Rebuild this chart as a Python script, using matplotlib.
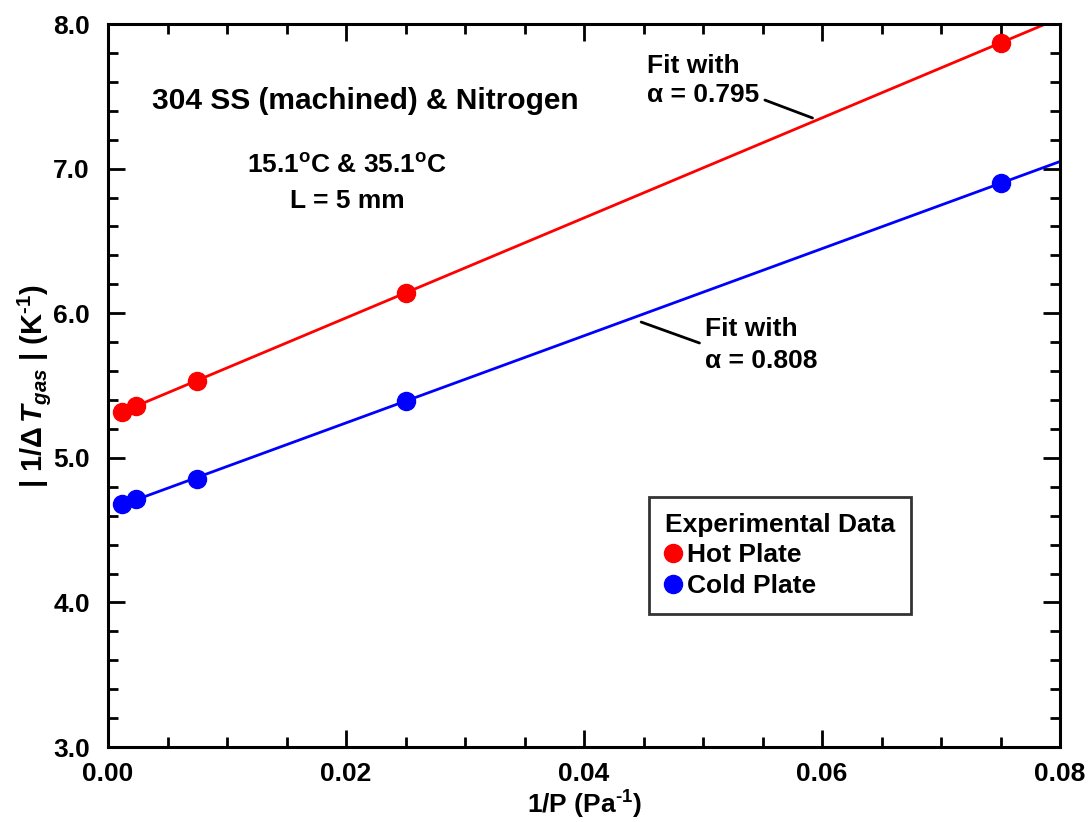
import numpy as np
import matplotlib
matplotlib.use('Agg')
import matplotlib.pyplot as plt

plt.rcParams['font.family'] = ['Liberation Sans', 'DejaVu Sans']
plt.rcParams['font.weight'] = 'bold'
plt.rcParams['mathtext.fontset'] = 'custom'
plt.rcParams['mathtext.rm'] = 'Liberation Sans:bold'
plt.rcParams['mathtext.bf'] = 'Liberation Sans:bold'
plt.rcParams['mathtext.it'] = 'Liberation Sans:bold:italic'

# data
inv_p = [0.00118, 0.00235, 0.0075, 0.025, 0.075]
hot = [5.32, 5.36, 5.53, 6.14, 7.87]
cold = [4.68, 4.715, 4.855, 5.39, 6.90]
x_fit = [0.00118, 0.08]

fig = plt.figure(figsize=(10.88, 8.22), dpi=100)
ax = fig.add_axes([0.0993, 0.0912, 0.875, 0.8796])

# linear fits
ph = np.polyfit(inv_p, hot, 1)
pc = np.polyfit(inv_p, cold, 1)
xf = np.array(x_fit)
ax.plot(xf, np.polyval(ph, xf), color='#ff0000', lw=2.0, zorder=2)
ax.plot(xf, np.polyval(pc, xf), color='#0000ff', lw=2.0, zorder=2)

ax.plot(inv_p, hot, 'o', color='#ff0000', ms=13, label='Hot Plate', zorder=3)
ax.plot(inv_p, cold, 'o', color='#0000ff', ms=13, label='Cold Plate', zorder=3)

ax.set_xlim(0, 0.08)
ax.set_ylim(3.0, 8.0)
ax.set_xticks([0.0, 0.02, 0.04, 0.06, 0.08])
ax.set_xticklabels(['0.00', '0.02', '0.04', '0.06', '0.08'])
ax.set_xticks(np.arange(0, 0.0801, 0.005), minor=True)
ax.set_yticks([3, 4, 5, 6, 7, 8])
ax.set_yticklabels(['3.0', '4.0', '5.0', '6.0', '7.0', '8.0'])
ax.set_yticks(np.arange(3, 8.01, 0.2), minor=True)

ax.tick_params(which='both', direction='in', top=True, right=True, labelsize=19)
ax.tick_params(which='major', length=12, width=2)
ax.tick_params(which='minor', length=7, width=2)
ax.tick_params(axis='y', pad=13)
ax.tick_params(axis='x', pad=10.5)
for s in ax.spines.values():
    s.set_linewidth(2.2)

ax.set_xlabel(r'1/P (Pa$^{\text{-1}}$)', fontsize=19, fontweight='bold', labelpad=2)
ax.set_ylabel(r'| 1/$\Delta\,T_{gas}$ | (K$^{\text{-1}}$)', fontsize=21, fontweight='bold', labelpad=0)

ax.text(0.270, 0.893, '304 SS (machined) & Nitrogen', transform=ax.transAxes,
        fontsize=21.5, ha='center', va='center')
ax.text(0.251, 0.804, r'15.1$^{\mathrm{o}}$C & 35.1$^{\mathrm{o}}$C', transform=ax.transAxes,
        fontsize=19, ha='center', va='center')
ax.text(0.251, 0.755, 'L = 5 mm', transform=ax.transAxes,
        fontsize=19, ha='center', va='center')

# fit annotations
ax.text(0.0453, 7.61, 'Fit with\n\u03b1 = 0.795', fontsize=19, ha='left', va='center',
        linespacing=1.3)
ax.annotate('', xy=(0.0592, 7.35), xytext=(0.0552, 7.474),
            arrowprops=dict(arrowstyle='-', color='black', lw=2, shrinkA=0, shrinkB=0))
ax.text(0.0502, 5.78, 'Fit with\n\u03b1 = 0.808', fontsize=19, ha='left', va='center',
        linespacing=1.4)
ax.annotate('', xy=(0.0448, 5.939), xytext=(0.0497, 5.794),
            arrowprops=dict(arrowstyle='-', color='black', lw=2, shrinkA=0, shrinkB=0))

leg = ax.legend(loc='upper left', bbox_to_anchor=(0.568, 0.346), title='Experimental Data',
                fontsize=19, title_fontsize=19, frameon=True, fancybox=False,
                handlelength=0.6, handletextpad=0.25, borderpad=0.6, labelspacing=0.25,
                alignment='left', borderaxespad=0)
leg.get_frame().set_edgecolor('black')
leg.get_frame().set_linewidth(2)
leg.get_title().set_fontweight('bold')
for t in leg.get_texts():
    t.set_fontweight('bold')

fig.savefig('out.png', dpi=100)
